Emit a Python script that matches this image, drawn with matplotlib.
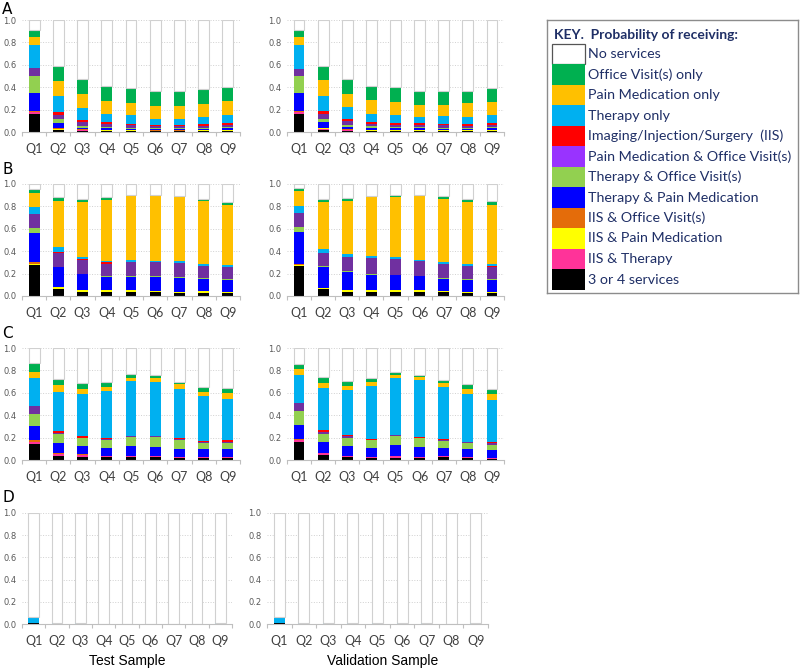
import numpy as np
import matplotlib
matplotlib.use("Agg")
import matplotlib.pyplot as plt
from matplotlib.patches import Rectangle

# quarters on the x axis
QUARTERS = ["Q1", "Q2", "Q3", "Q4", "Q5", "Q6", "Q7", "Q8", "Q9"]

# legend order (top to bottom)
LABELS = ["No services", "Office Visit(s) only", "Pain Medication only", "Therapy only",
          "Imaging/Injection/Surgery  (IIS)", "Pain Medication & Office Visit(s)",
          "Therapy & Office Visit(s)", "Therapy & Pain Medication", "IIS & Office Visit(s)",
          "IIS & Pain Medication", "IIS & Therapy", "3 or 4 services"]
KEY_COLORS = ["white", "#00B050", "#FFC000", "#00B0F0", "#FF0000", "#9933FF",
              "#92D050", "#0000FF", "#E46C0A", "#FFFF00", "#FF3399", "#000000"]

# bar colours, bottom of stack first (3 or 4 services ... office visits only)
STACK_COLORS = ["#000000", "#FF3399", "#FFFF00", "#E46C0A", "#0000FF", "#92D050",
                "#7030A0", "#FF0000", "#00B0F0", "#FFC000", "#00B050"]

# rows follow STACK_COLORS, columns Q1..Q9 ; "no services" is what is left up to 1.0
A_TEST = [
    [.16, .015, .01, .005, .005, .005, .005, .005, .005],
    [.015, .005, .005, .005, .005, .005, .005, .005, .005],
    [.005, .01, .005, .005, .005, 0, 0, .005, .005],
    [.01, .005, .005, .005, 0, .005, .005, 0, .005],
    [.16, .045, .015, .015, .015, .01, .01, .01, .015],
    [.15, .035, .015, .01, .01, .01, .01, .01, .01],
    [.07, .04, .03, .025, .02, .02, .02, .02, .02],
    [0, .02, .02, .015, .015, .01, .01, .015, .015],
    [.21, .145, .105, .08, .075, .055, .055, .065, .075],
    [.065, .135, .125, .115, .105, .11, .11, .115, .12],
    [.07, .13, .14, .13, .14, .135, .135, .13, .125],
]
A_VAL = [
    [.16, .02, .01, .005, .005, .005, .005, .005, .005],
    [.015, .005, .005, .005, .005, .005, .005, .005, .005],
    [.005, .01, .005, .005, .005, .005, .005, .005, .005],
    [.01, .005, .005, .005, .005, .005, 0, 0, .005],
    [.16, .045, .02, .015, .015, .015, .015, .01, .015],
    [.15, .035, .015, .015, .01, .01, .01, .01, .01],
    [.065, .04, .035, .025, .02, .02, .02, .02, .02],
    [0, .025, .02, .015, .015, .015, .015, .015, .015],
    [.215, .14, .105, .075, .075, .055, .065, .065, .075],
    [.07, .135, .115, .12, .11, .105, .105, .12, .115],
    [.065, .125, .135, .125, .135, .13, .125, .115, .12],
]
B_TEST = [
    [.28, .06, .035, .035, .035, .035, .03, .03, .03],
    [0, 0, 0, 0, 0, 0, 0, 0, 0],
    [.01, .02, .02, .015, .015, .01, .01, .015, .01],
    [.01, 0, 0, 0, 0, 0, 0, 0, 0],
    [.26, .175, .14, .12, .12, .125, .125, .11, .105],
    [.05, .005, .005, .005, .005, .005, .005, .005, .005],
    [.12, .125, .125, .115, .13, .125, .125, .105, .105],
    [0, .005, .005, .01, 0, 0, 0, 0, .005],
    [.065, .045, .02, .015, .015, .015, .015, .02, .02],
    [.125, .41, .485, .545, .57, .575, .57, .56, .535],
    [.035, .04, .035, .02, .015, .015, .015, .02, .025],
]
B_VAL = [
    [.27, .06, .04, .04, .035, .035, .035, .03, .03],
    [0, 0, 0, 0, 0, 0, 0, 0, 0],
    [.01, .015, .015, .015, .015, .015, .01, .01, .01],
    [.005, 0, 0, 0, 0, 0, 0, 0, 0],
    [.285, .185, .16, .135, .135, .125, .11, .105, .105],
    [.05, .005, .005, .005, .005, .005, .005, .005, .005],
    [.12, .115, .125, .14, .14, .135, .13, .115, .11],
    [0, .005, 0, 0, 0, 0, 0, 0, .005],
    [.06, .035, .03, .02, .015, .01, .01, .02, .02],
    [.135, .415, .47, .525, .54, .57, .565, .555, .53],
    [.025, .035, .03, .015, .02, .01, .025, .025, .03],
]
C_TEST = [
    [.145, .035, .03, .025, .025, .025, .02, .015, .015],
    [.015, .02, .015, .015, .015, .01, .01, .01, .01],
    [.005, 0, 0, 0, 0, 0, 0, 0, 0],
    [.01, .005, .005, 0, 0, 0, 0, .005, 0],
    [.125, .095, .075, .065, .085, .085, .07, .065, .07],
    [.115, .075, .07, .075, .08, .085, .08, .06, .06],
    [.065, .01, .005, .005, .005, .005, .005, .01, .01],
    [0, .015, .01, .01, .005, .005, .01, .005, .01],
    [.25, .355, .38, .42, .49, .485, .44, .40, .37],
    [.06, .06, .045, .04, .03, .03, .04, .04, .05],
    [.075, .05, .05, .045, .035, .03, .025, .04, .045],
]
C_VAL = [
    [.16, .045, .025, .02, .02, .02, .025, .015, .01],
    [.02, .015, .015, .01, .015, .01, .015, .01, .01],
    [0, 0, 0, 0, 0, 0, 0, 0, 0],
    [.005, 0, 0, 0, 0, 0, 0, 0, 0],
    [.125, .10, .085, .08, .095, .09, .065, .07, .07],
    [.13, .075, .075, .065, .085, .075, .065, .055, .045],
    [.065, .015, .01, .005, .005, .005, .005, .01, .015],
    [0, .02, .01, .01, .005, .005, .01, .005, .01],
    [.255, .375, .405, .47, .51, .505, .465, .42, .38],
    [.05, .045, .04, .035, .02, .03, .035, .05, .05],
    [.05, .055, .04, .035, .03, .02, .03, .045, .045],
]
ZERO = [0, 0, 0, 0, 0, 0, 0, 0, 0]
D_TEST = [[.005, 0, 0, 0, 0, 0, 0, 0, 0]] + [ZERO] * 7 + \
    [[.055, .005, .005, .003, .003, .003, .003, .003, .005]] + [ZERO] * 2
D_VAL = [[.005, 0, 0, 0, 0, 0, 0, 0, 0]] + [ZERO] * 7 + \
    [[.055, .008, .005, .005, .005, .005, .005, .003, .005]] + [ZERO] * 2

W, H = 800, 668
fig = plt.figure(figsize=(8, 6.68), dpi=100)


def px_axes(left, top, right, bottom):
    return fig.add_axes([left / W, 1 - bottom / H, (right - left) / W, (bottom - top) / H])


def draw_panel(ax, data):
    x = np.arange(len(QUARTERS))
    bottom = np.zeros(len(QUARTERS))
    for vals, col in zip(data, STACK_COLORS):
        vals = np.array(vals, dtype=float)
        ax.bar(x, vals, 0.45, bottom=bottom, color=col, linewidth=0, zorder=2)
        bottom += vals
    ax.bar(x, 1 - bottom, 0.45, bottom=bottom, color="white", edgecolor="#d0d0d0",
           linewidth=0.8, zorder=2)
    ax.set_xlim(-0.5, 8.5)
    ax.set_ylim(0, 1.0)
    for s in ["top", "right", "left"]:
        ax.spines[s].set_visible(False)
    ax.spines["bottom"].set_color("#bfbfbf")
    ax.spines["bottom"].set_linewidth(0.8)
    ax.set_xticks(x)
    ax.set_xticklabels(QUARTERS, fontsize=9, color="#404040", family="Lato")
    ax.set_xticks(np.arange(-0.5, 9, 1), minor=True)
    ax.tick_params(axis="x", which="major", length=0, pad=8)
    ax.tick_params(axis="x", which="minor", length=3, color="#bfbfbf", width=0.8)
    ax.set_yticks(np.arange(0, 1.01, 0.2))
    ax.set_yticklabels(["%.1f" % v for v in np.arange(0, 1.01, 0.2)],
                       fontsize=6, color="#595959")
    ax.tick_params(axis="y", length=0, pad=4)
    ax.yaxis.grid(True, linestyle=":", color="#d0d0d0", linewidth=0.7)
    ax.set_axisbelow(True)


rows = [(20, 132), (184, 296), (348, 460), (513, 624)]
panels = [(A_TEST, A_VAL), (B_TEST, B_VAL), (C_TEST, C_VAL), (D_TEST, D_VAL)]
letters = ["A", "B", "C", "D"]
letter_y = [9, 170, 333, 498]

for i, ((top, bot), (tdata, vdata)) in enumerate(zip(rows, panels)):
    if i < 3:
        ax1 = px_axes(22, top, 240, bot)
        ax2 = px_axes(287, top, 504, bot)
    else:
        ax1 = px_axes(22, top, 232, bot)
        ax2 = px_axes(267, top, 488, bot)
    draw_panel(ax1, tdata)
    draw_panel(ax2, vdata)
    fig.text(2 / W, 1 - letter_y[i] / H, letters[i], fontsize=11, va="center", ha="left")

fig.text(127 / W, 1 - 661 / H, "Test Sample", fontsize=10, ha="center", va="center",
         family="Liberation Sans")
fig.text(383 / W, 1 - 661 / H, "Validation Sample", fontsize=10, ha="center", va="center",
         family="Liberation Sans")

# key box, drawn in pixel units
kx = fig.add_axes([547 / W, 1 - 293 / H, 251 / W, 273 / H])
kx.set_xlim(547, 798)
kx.set_ylim(293, 20)
kx.set_xticks([])
kx.set_yticks([])
for s in kx.spines.values():
    s.set_color("#8c8c8c")
    s.set_linewidth(1.0)
navy = "#1F2F66"
kx.text(554, 35, "KEY.  Probability of receiving:", fontsize=10, fontweight="bold",
        color=navy, va="center", ha="left", family="Lato")
step = 20.5
for j, (lab, col) in enumerate(zip(LABELS, KEY_COLORS)):
    yc = 54 + j * step
    if col == "white":
        kx.add_patch(Rectangle((552, yc - step / 2 + 0.5), 33, step - 1, facecolor="white",
                               edgecolor="#555555", linewidth=0.9))
    else:
        kx.add_patch(Rectangle((552, yc - step / 2), 33, step, facecolor=col, linewidth=0))
    kx.text(588, yc, lab, fontsize=10.3, color=navy, va="center", ha="left", family="Lato")

fig.savefig("out.png", dpi=100)
